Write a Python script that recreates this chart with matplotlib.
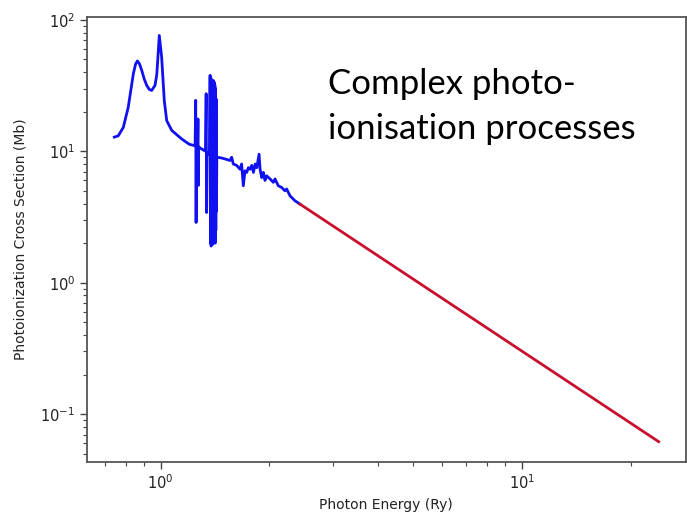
import numpy as np
import matplotlib
matplotlib.use("Agg")
import matplotlib.pyplot as plt
from matplotlib.ticker import LogLocator, NullFormatter

# Photoionization cross section
# blue part : resonance region (Ry, Mb)
blue_energy = [0.744, 0.763, 0.788, 0.813, 0.828, 0.840, 0.852, 0.862, 0.874, 0.886,
               0.900, 0.915, 0.930, 0.944, 0.964, 0.975,
               0.981, 0.991, 1.006, 1.023, 1.039, 1.073, 1.143, 1.200, 1.245,
               1.250, 1.253, 1.256, 1.265, 1.268, 1.271, 1.274, 1.285, 1.330,
               1.336, 1.340, 1.344, 1.365,
               1.370, 1.373, 1.376, 1.379, 1.382, 1.385, 1.388, 1.391, 1.394, 1.397,
               1.400, 1.403, 1.406, 1.409, 1.412, 1.415, 1.418, 1.421, 1.424, 1.427,
               1.430, 1.470, 1.506, 1.555, 1.572, 1.588, 1.623, 1.658, 1.675, 1.693,
               1.711, 1.730, 1.749, 1.768, 1.787, 1.806, 1.826, 1.845, 1.872, 1.884,
               1.904, 1.924, 1.944, 1.965, 2.007, 2.050, 2.072, 2.116, 2.162, 2.208,
               2.232, 2.280, 2.353, 2.430]
blue_sigma = [12.8, 13.1, 15.2, 21.6, 30.0, 38.9, 46.0, 48.6, 46.0, 41.3,
              35.5, 31.6, 29.5, 29.0, 31.6, 38.0,
              49.0, 76.0, 52.0, 24.3, 17.1, 14.4, 12.4, 11.3, 11.0,
              24.4, 2.87, 11.0, 10.9, 17.6, 5.5, 10.8, 10.6, 10.0,
              27.4, 3.42, 9.8, 9.4,
              37.8, 2.0, 36.5, 1.9, 35.0, 2.1, 34.0, 1.95, 33.0, 2.2,
              34.5, 2.0, 33.5, 2.3, 32.0, 2.0, 30.0, 2.5, 25.0, 3.5,
              9.0, 8.9, 8.74, 8.5, 9.0, 8.0, 7.8, 7.3, 8.0, 5.46,
              7.1, 6.9, 7.5, 7.3, 7.8, 6.9, 8.0, 7.5, 9.5, 7.3,
              6.3, 6.9, 6.0, 6.5, 6.16, 5.8, 6.16, 5.46, 5.3, 5.0,
              5.16, 4.58, 4.2, 3.96]

# red part : high energy tail
red_energy = [2.43, 23.9]
red_sigma = [3.96, 0.0618]

note_text = "Complex photo-\nionisation processes"


def plotCrossSection():
    fig = plt.figure(figsize=(6.87, 5.16), dpi=100)
    ax = fig.add_axes([0.1266, 0.1047, 0.8715, 0.8624])

    ax.plot(blue_energy, blue_sigma, color='#1010f0', lw=2.0, solid_joinstyle='round')
    ax.plot(red_energy, red_sigma, color='#c8102e', lw=2.0)

    ax.set_xscale('log')
    ax.set_yscale('log')
    ax.set_xlim(0.625, 28.4)
    ax.set_ylim(0.0433, 105)

    # only the decades get labels
    for axis in (ax.xaxis, ax.yaxis):
        axis.set_major_locator(LogLocator(base=10))
        axis.set_minor_locator(LogLocator(base=10, subs=np.arange(2, 10)))
        axis.set_minor_formatter(NullFormatter())

    ax.tick_params(which='major', length=5, width=1, colors='#444444', labelsize=10.5,
                   labelcolor='#222222')
    ax.tick_params(which='minor', length=3, width=0.8, colors='#444444')
    for s in ax.spines.values():
        s.set_color('#555555')
        s.set_linewidth(1.3)

    ax.set_xlabel('Photon Energy (Ry)', fontsize=10, color='#222222', labelpad=4)
    ax.set_ylabel('Photoionization Cross Section (Mb)', fontsize=10, color='#222222',
                  labelpad=9)

    ax.text(0.4025, 0.885, note_text, transform=ax.transAxes, fontsize=25,
            family='Lato', va='top', ha='left', linespacing=1.5)

    fig.savefig('out.png', dpi=100)


def main():
    plotCrossSection()


if __name__ == "__main__":
    main()
